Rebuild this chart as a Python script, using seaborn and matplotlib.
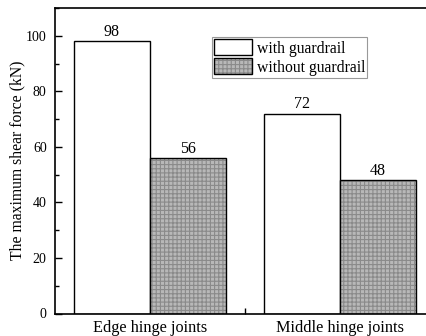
import matplotlib
matplotlib.use("Agg")
import matplotlib.pyplot as plt
import seaborn as sns
import pandas as pd
from matplotlib.patches import Rectangle
from matplotlib.ticker import MultipleLocator, FixedLocator

categories = ["Edge hinge joints", "Middle hinge joints"]
series = ["with guardrail", "without guardrail"]
with_guardrail = [98, 72]
without_guardrail = [56, 48]

df = pd.DataFrame({
    "joint": categories * 2,
    "case": [series[0]] * 2 + [series[1]] * 2,
    "force": with_guardrail + without_guardrail,
})

sns.set_style("ticks")
plt.rcParams['font.family'] = ['Liberation Serif', 'DejaVu Serif']
plt.rcParams['text.color'] = 'black'
plt.rcParams['axes.labelcolor'] = 'black'
plt.rcParams['xtick.color'] = 'black'
plt.rcParams['ytick.color'] = 'black'
plt.rcParams['axes.edgecolor'] = 'black'
plt.rcParams['hatch.linewidth'] = 0.8

FILL = "#b8b8b8"
HATCH = "#8a8a8a"

fig = plt.figure(figsize=(4.27, 3.36), dpi=100)
ax = fig.add_axes([55/427, 22.5/336, 380/427, 305.5/336])

sns.barplot(data=df, x="joint", y="force", hue="case", order=categories,
            hue_order=series, palette=["white", FILL], saturation=1, width=0.8,
            edgecolor="black", linewidth=1.0, ax=ax, legend=False)

containers = ax.containers
for bar in containers[1]:
    bar.set_hatch("++++")
    bar.set_edgecolor(HATCH)
    bar.set_linewidth(0)
    ax.add_patch(Rectangle((bar.get_x(), bar.get_y()), bar.get_width(), bar.get_height(),
                           fill=False, edgecolor="black", linewidth=1.0, zorder=bar.get_zorder() + 0.1))
for c in containers:
    ax.bar_label(c, fmt="%d", padding=1, fontsize=11.5)

ax.set_xlim(-0.5, 1.5)
ax.set_ylim(0, 110)
ax.yaxis.set_major_locator(MultipleLocator(20))
ax.yaxis.set_minor_locator(MultipleLocator(10))
ax.xaxis.set_minor_locator(FixedLocator([0.5]))
ax.tick_params(axis="y", which="major", direction="in", length=5, width=1, labelsize=10, pad=6)
ax.tick_params(axis="y", which="minor", direction="in", length=3, width=1)
ax.tick_params(axis="x", which="major", length=0, labelsize=11.7, pad=5)
ax.tick_params(axis="x", which="minor", direction="in", length=4, width=1)
for s in ax.spines.values():
    s.set_linewidth(1.2)
ax.set_xlabel("")
ax.set_ylabel("The maximum shear force (kN)", fontsize=11.3)
ax.yaxis.set_label_coords((25 - 55) / 380, 0.5)

handles = [Rectangle((0, 0), 1, 1, facecolor="white", edgecolor="black", linewidth=1.0),
           (Rectangle((0, 0), 1, 1, facecolor=FILL, hatch="++++", edgecolor=HATCH, linewidth=0),
            Rectangle((0, 0), 1, 1, fill=False, edgecolor="black", linewidth=1.0))]
leg = ax.legend(handles, series, loc="upper left", bbox_to_anchor=(212/427, 1 - 37/336),
                bbox_transform=fig.transFigure, fontsize=11.3, frameon=True, fancybox=False,
                edgecolor="#808080", handlelength=2.4, handleheight=1.2, handletextpad=0.3,
                borderpad=0.15, labelspacing=0.1, borderaxespad=0)
leg.get_frame().set_linewidth(0.8)

fig.savefig("out.png", dpi=100)
